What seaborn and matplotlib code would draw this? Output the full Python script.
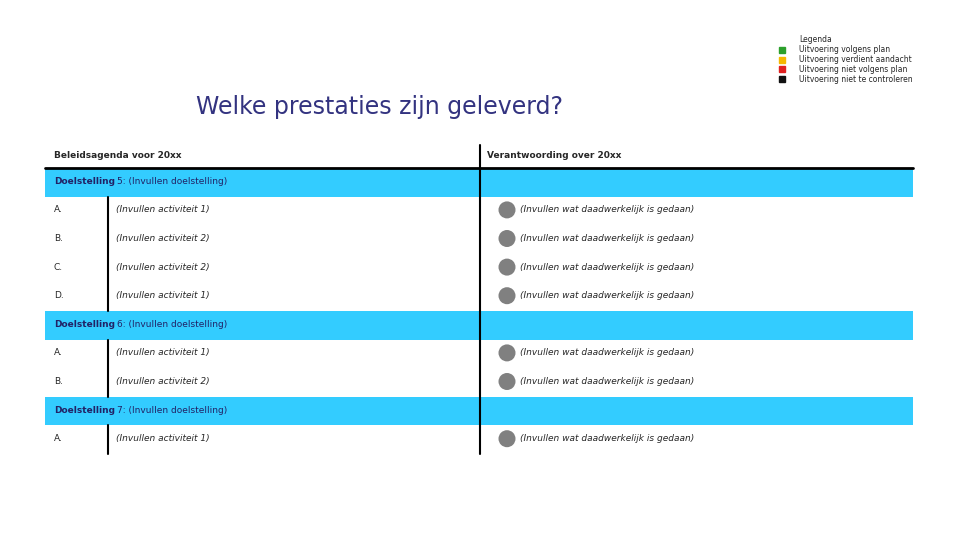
import matplotlib
matplotlib.use("Agg")
import matplotlib.pyplot as plt
import seaborn as sns
import pandas as pd

sns.set_style("white")
plt.rcParams['font.family'] = ['DejaVu Sans']

title = "Welke prestaties zijn geleverd?"
header_left = "Beleidsagenda voor 20xx"
header_right = "Verantwoording over 20xx"
legend_title = "Legenda"
legend_labels = ["Uitvoering volgens plan", "Uitvoering verdient aandacht",
                 "Uitvoering niet volgens plan", "Uitvoering niet te controleren"]
legend_colors = ["#2ca02c", "#f5b800", "#e02020", "#111111"]

goals = ["Doelstelling 5: (Invullen doelstelling)",
         "Doelstelling 6: (Invullen doelstelling)",
         "Doelstelling 7: (Invullen doelstelling)"]
letters = [["A.", "B.", "C.", "D."], ["A.", "B."], ["A."]]
activities = [["(Invullen activiteit 1)", "(Invullen activiteit 2)",
               "(Invullen activiteit 2)", "(Invullen activiteit 1)"],
              ["(Invullen activiteit 1)", "(Invullen activiteit 2)"],
              ["(Invullen activiteit 1)"]]
done_text = "(Invullen wat daadwerkelijk is gedaan)"

W, H = 960, 540
fig = plt.figure(figsize=(9.6, 5.4), dpi=100)
ax = fig.add_axes([0, 0, 1, 1])
ax.set_xlim(0, W); ax.set_ylim(H, 0); ax.axis("off")

ax.text(380, 107, title, fontsize=17, color="#333380", ha="center", va="center")
ax.text(54, 155, header_left, fontsize=6.5, fontweight="bold", va="center")
ax.text(487, 155, header_right, fontsize=6.5, fontweight="bold", va="center")

# legend
ax.text(799, 40, legend_title, fontsize=5.5, va="center")
for i, (lab, c) in enumerate(zip(legend_labels, legend_colors)):
    y = 50 + i * 9.7
    ax.add_patch(plt.Rectangle((779, y - 3), 6, 6, color=c))
    ax.text(799, y, lab, fontsize=5.5, va="center")

rowh = 28.6
y = 168
pts = []
xl0, xl1, xm, xr = 45, 108, 480, 913
for g, ls, acts in zip(goals, letters, activities):
    ax.add_patch(plt.Rectangle((xl0, y), xr - xl0, rowh, color="#33ccff", lw=0))
    word, rest = g.split(" ", 1)
    t = ax.text(54, y + rowh / 2 - 1, word, fontsize=6.5, fontweight="bold", color="#222266", va="center")
    ax.text(117, y + rowh / 2 - 1, rest, fontsize=6.5, color="#222266", va="center")
    y += rowh
    ax.plot([xl1, xl1], [y, y + rowh * len(ls)], color="black", lw=1.5)
    for L, a in zip(ls, acts):
        cy = y + rowh / 2 - 1
        ax.text(54, cy, L, fontsize=6.5, va="center")
        ax.text(116, cy, a, fontsize=6.5, style="italic", va="center")
        ax.text(520, cy, done_text, fontsize=6.5, style="italic", va="center")
        pts.append(cy)
        y += rowh

ax.plot([xl0, xr], [168, 168], color="black", lw=2)
ax.plot([xm, xm], [145, y], color="black", lw=1.5)

df = pd.DataFrame({"x": [507] * len(pts), "y": pts})
sns.scatterplot(data=df, x="x", y="y", ax=ax, s=150, color="#808080", edgecolor="none", legend=False, zorder=5)
ax.set_xlim(0, W); ax.set_ylim(H, 0); ax.axis("off")

fig.savefig("out.png", dpi=100)
